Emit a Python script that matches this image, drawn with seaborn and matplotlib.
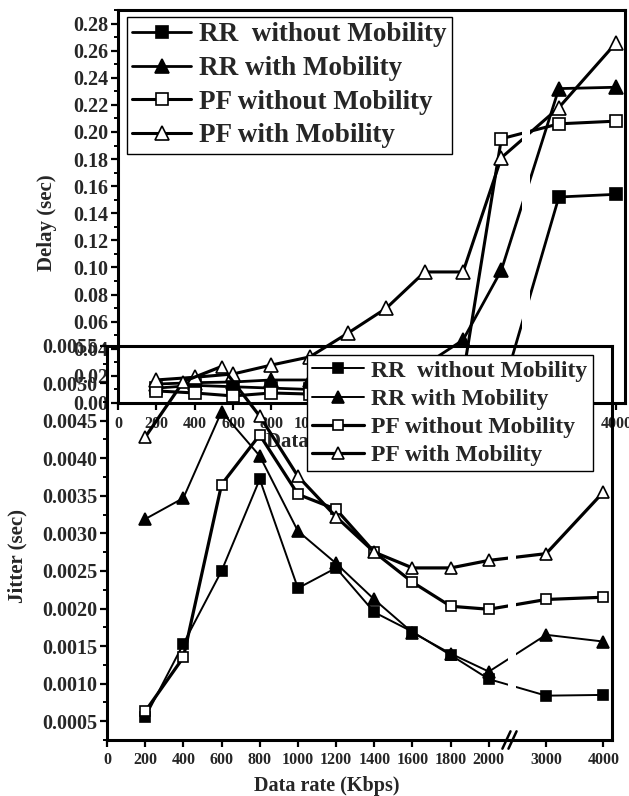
import numpy as np
import pandas as pd
import matplotlib
matplotlib.use("Agg")
import matplotlib.pyplot as plt
import seaborn as sns
from matplotlib.ticker import MultipleLocator, FormatStrFormatter, FixedLocator

# ---------------- data ----------------
data_rate = [200, 400, 600, 800, 1000, 1200, 1400, 1600, 1800, 2000, 3000, 4000]
x_tick_values = [0, 200, 400, 600, 800, 1000, 1200, 1400, 1600, 1800, 2000, 3000, 4000]
x_tick_labels = ["0", "200", "400", "600", "800", "1000", "1200", "1400", "1600",
                 "1800", "2000", "3000", "4000"]
series_labels = ["RR  without Mobility", "RR with Mobility",
                 "PF without Mobility", "PF with Mobility"]

delay_rr_nomob = [0.011, 0.013, 0.012, 0.011, 0.010, 0.009, 0.008, 0.008, 0.007, 0.0066, 0.152, 0.154]
delay_rr_mob = [0.014, 0.015, 0.0155, 0.017, 0.017, 0.018, 0.020, 0.028, 0.0465, 0.098, 0.232, 0.233]
delay_pf_nomob = [0.0089, 0.0074, 0.0052, 0.0074, 0.0066, 0.007, 0.007, 0.008, 0.020, 0.195, 0.206, 0.208]
delay_pf_mob = [0.017, 0.019, 0.0214, 0.028, 0.034, 0.0516, 0.070, 0.0967, 0.0967, 0.181, 0.218, 0.266]

jitter_rr_nomob = [0.00055, 0.00153, 0.0025, 0.00372, 0.00227, 0.00254, 0.00195, 0.00169, 0.00138, 0.00106, 0.00084, 0.00085]
jitter_rr_mob = [0.00319, 0.00347, 0.00462, 0.00403, 0.00303, 0.00260, 0.00212, 0.00168, 0.00140, 0.00116, 0.00165, 0.00156]
jitter_pf_nomob = [0.00063, 0.00135, 0.00365, 0.00431, 0.00352, 0.00332, 0.00275, 0.00235, 0.00203, 0.00199, 0.00212, 0.00215]
jitter_pf_mob = [0.00428, 0.00502, 0.00522, 0.00456, 0.00376, 0.00322, 0.00275, 0.00254, 0.00254, 0.00264, 0.00273, 0.00355]

# ---------------- style ----------------
sns.set_theme(style="white")
plt.rcParams['font.family'] = ['Liberation Serif', 'DejaVu Serif']
plt.rcParams['font.weight'] = 'bold'
plt.rcParams['axes.labelweight'] = 'bold'

def fwd(x):
    x = np.asarray(x, dtype=float)
    return np.where(x <= 2000, x, 2000 + (x - 2000) * 0.3)

def inv(p):
    p = np.asarray(p, dtype=float)
    return np.where(p <= 2000, p, 2000 + (p - 2000) / 0.3)

styles = [
    dict(marker='s', markerfacecolor='black', markersize=8.5),
    dict(marker='^', markerfacecolor='black', markersize=10),
    dict(marker='s', markerfacecolor='white', markersize=8.5),
    dict(marker='^', markerfacecolor='white', markersize=10),
]

fig = plt.figure(figsize=(6.29, 7.96), dpi=100)
fig.patch.set_facecolor('white')

ax_d = fig.add_axes([118 / 629, 1 - 403 / 796, 507 / 629, 393 / 796])
ax_j = fig.add_axes([107 / 629, 1 - 740 / 796, 505 / 629, 394.5 / 796])
ax_d.set_facecolor('white')
ax_j.set_facecolor('none')


def draw(ax, series, lws, msize_scale, ytick_fmt, ymajor, yminor, ylim, ylabsize):
    for vals, lab, st, lw in zip(series, series_labels, styles, lws):
        df = pd.DataFrame({"rate": data_rate, "val": vals})
        kw = dict(st)
        kw['markersize'] = st['markersize'] * msize_scale
        sns.lineplot(data=df, x="rate", y="val", ax=ax, color='black', lw=lw,
                     markeredgecolor='black', markeredgewidth=1.2, label=lab,
                     legend=False, **kw)
    ax.set_xscale('function', functions=(fwd, inv))
    ax.set_xlim(0, 4150)
    ax.set_ylim(*ylim)
    ax.xaxis.set_major_locator(FixedLocator(x_tick_values))
    ax.set_xticklabels(x_tick_labels)
    ax.xaxis.set_minor_locator(FixedLocator([]))
    ax.yaxis.set_major_locator(MultipleLocator(ymajor))
    ax.yaxis.set_minor_locator(MultipleLocator(yminor))
    ax.yaxis.set_major_formatter(FormatStrFormatter(ytick_fmt))
    for s in ax.spines.values():
        s.set_color('black')
        s.set_linewidth(2.2)
        s.set_visible(True)
    ax.tick_params(axis='both', which='major', direction='out', length=5,
                   width=1.6, color='black', left=True, bottom=True)
    ax.tick_params(axis='y', which='minor', direction='out', length=3,
                   width=1.4, color='black', left=True)
    ax.tick_params(axis='x', labelsize=11.5, pad=4)
    ax.tick_params(axis='y', labelsize=ylabsize, pad=2)
    ax.grid(False)


draw(ax_d, [delay_rr_nomob, delay_rr_mob, delay_pf_nomob, delay_pf_mob],
     [2.0, 2.0, 2.2, 2.2], 1.0, '%.2f', 0.02, 0.01, (0, 0.29), 14.5)
draw(ax_j, [jitter_rr_nomob, jitter_rr_mob, jitter_pf_nomob, jitter_pf_mob],
     [1.4, 1.4, 2.3, 2.3], 0.92, '%.4f', 0.0005, 0.00025, (0.00025, 0.0055), 14.5)

# line gaps at the axis break
ax_d.axvspan(2367, 2500, ymin=0.07, ymax=0.97, color='white', zorder=2.1, lw=0)
ax_j.axvspan(2340, 2480, ymin=0.12, ymax=0.55, color='white', zorder=2.1, lw=0)

# break marks on jitter x axis
for dx in (-0.012, 0.0):
    ax_j.plot([0.795 + dx, 0.811 + dx], [-0.022, 0.022], transform=ax_j.transAxes,
              color='black', lw=1.8, clip_on=False, zorder=6)

# labels
ax_d.set_ylabel("Delay (sec)", fontsize=15, fontweight='bold')
ax_d.yaxis.set_label_coords(-0.12, 0.46)
ax_d.set_xlabel("Data rate (Kbps)", fontsize=15, fontweight='bold')
ax_d.xaxis.set_label_coords(0.44, -0.075)
ax_j.set_ylabel("Jitter (sec)", fontsize=15, fontweight='bold')
ax_j.yaxis.set_label_coords(-0.158, 0.466)
ax_j.set_xlabel("Data rate (Kbps)", fontsize=14.5, fontweight='bold')
ax_j.xaxis.set_label_coords(0.436, -0.092)

# legends
h, l = ax_d.get_legend_handles_labels()
leg_d = ax_d.legend(h, l, loc='upper left', bbox_to_anchor=(127 / 629, 1 - 17 / 796),
                    bbox_transform=fig.transFigure, borderaxespad=0,
                    prop={'family': 'Liberation Serif', 'weight': 'bold', 'size': 19.5},
                    frameon=True, fancybox=False, framealpha=1, edgecolor='black',
                    handlelength=2.15, handletextpad=0.3, labelspacing=0.32,
                    borderpad=0.2)
leg_d.get_frame().set_linewidth(1.0)

h, l = ax_j.get_legend_handles_labels()
leg_j = ax_j.legend(h, l, loc='upper left', bbox_to_anchor=(307 / 629, 1 - 355 / 796),
                    bbox_transform=fig.transFigure, borderaxespad=0,
                    prop={'family': 'Liberation Serif', 'weight': 'bold', 'size': 17},
                    frameon=True, fancybox=False, framealpha=1, edgecolor='black',
                    handlelength=2.2, handletextpad=0.3, labelspacing=0.28,
                    borderpad=0.22)
leg_j.get_frame().set_linewidth(1.0)
leg_j.set_zorder(10)

fig.savefig("out.png", dpi=100, facecolor='white')
